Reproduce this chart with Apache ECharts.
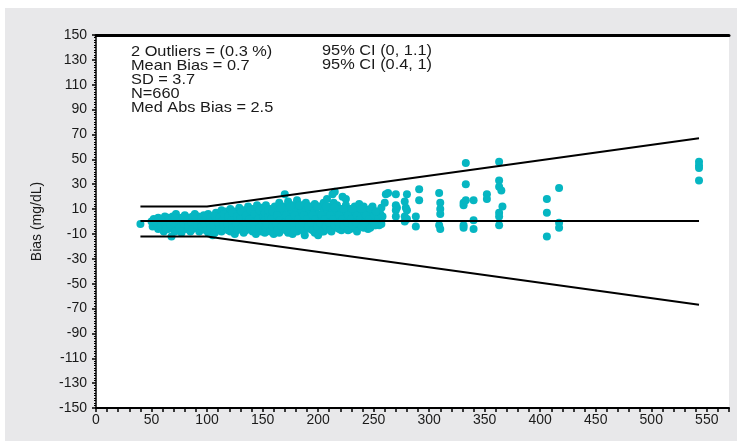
<!DOCTYPE html>
<html>
<head>
<meta charset="utf-8">
<script src="https://cdn.jsdelivr.net/npm/echarts@6/dist/echarts.min.js"></script>
<style>
html,body{margin:0;padding:0;background:#fff;}
#chart{width:737px;height:441px;}
</style>
</head>
<body>
<div id="chart"></div>
<script>
// Tick labels
const xTicks = [0, 50, 100, 150, 200, 250, 300, 350, 400, 450, 500, 550];
const yTicks = [-150, -130, -110, -90, -70, -50, -30, -10, 10, 30, 50, 70, 90, 110, 130, 150];

// Annotation texts
const statsLeft = ["2 Outliers = (0.3 %)", "Mean Bias = 0.7", "SD = 3.7", "N=660", "Med Abs Bias = 2.5"];
const statsRight = ["95% CI (0, 1.1)", "95% CI (0.4, 1)"];

// Limit lines (reference value vs bias)
const upperLimit = [[40, 12], [100, 12], [543, 67]];
const lowerLimit = [[40, -12], [100, -12], [543, -67]];
const meanLine = [[40, 0.5], [543, 0.5]];

// Dense cluster, reference 40-150 mg/dL
const clusterLow = [
  [40,-2],[50,0],[51,-4],[52,2],[55,-2],[56,-6],[56,3],
  [60,1],[60,-5],[61,-8],[62,4],[64,-2],[65,3],[65,-6],
  [68,-12],[68,0],[69,-5],[69,4],[72,6],[72,-2],[73,-7],[74,2],
  [76,-4],[77,3],[77,-9],[80,0],[80,5],[81,-6],[84,-3],[84,3],[85,-8],
  [88,1],[88,-5],[89,6],[92,-2],[92,4],[93,-8],[96,0],[96,-6],[97,5],
  [100,2],[100,-4],[101,-9],[101,6],[104,-2],[104,4],[105,-11],[105,-7],
  [108,1],[108,7],[109,-5],[112,-2],[112,5],[113,-8],[113,9],
  [116,2],[116,-5],[117,8],[120,-1],[120,6],[121,-8],[121,10],
  [124,3],[124,-4],[125,8],[125,-10],[128,0],[128,6],[129,-6],[129,11],
  [132,-3],[132,4],[133,9],[133,-9],[136,1],[136,7],[137,-6],[137,12],
  [140,-2],[140,4],[141,10],[141,-8],[144,2],[144,8],[145,-5],[145,13],[144,-10],
  [148,-2],[148,5],[149,11],[149,-8]
];
const clusterLowFill = [
  [54,-1],[58,1],[58,-4],[62,-2],[63,-6],[66,1],[67,-3],[70,-1],[71,3],[71,-8],
  [75,0],[75,-5],[79,-2],[79,3],[82,1],[83,-4],[86,-1],[87,4],[87,-6],[90,2],
  [91,-3],[94,1],[95,-4],[95,3],[98,-2],[99,3],[99,-7],[102,0],[103,-5],[103,3],
  [106,-3],[107,4],[107,-9],[110,-1],[111,3],[111,-6],[114,1],[115,-3],[115,6],
  [118,-2],[119,4],[119,-7],[122,1],[123,-5],[123,7],[126,-2],[127,4],[127,-7],
  [130,2],[131,-5],[131,8],[134,-1],[135,5],[135,-7],[138,2],[139,-4],[139,9],
  [142,-1],[143,6],[143,-6],[146,2],[147,-5],[147,9],[150,-1],[151,4],[151,-7],[151,10]
];

// Dense cluster, reference 150-260 mg/dL
const clusterHigh = [
  [152,1],[152,7],[153,13],[153,-5],[152,-9],[156,-3],[156,4],[157,10],[157,-8],
  [160,0],[160,6],[161,12],[161,-6],[160,-10],[164,-3],[164,3],[165,9],[165,15],[165,-9],
  [168,1],[168,7],[169,12],[169,-6],[170,22],[172,-2],[172,4],[173,10],[173,-9],[173,16],
  [176,1],[176,7],[177,13],[177,-6],[177,-10],[180,-2],[180,4],[181,10],[181,17],[181,-8],
  [184,1],[184,7],[185,13],[185,-5],[188,-2],[188,4],[189,10],[188,-11],[189,15],
  [192,1],[192,7],[193,12],[193,-6],[196,-3],[196,3],[197,9],[197,14],[197,-9],
  [200,0],[200,6],[201,12],[201,-6],[200,-11],[204,-3],[204,3],[205,9],[205,15],[205,-8],
  [208,1],[208,7],[209,12],[209,-5],[208,18],[212,-2],[212,4],[213,10],[212,-8],[213,22],[214,15],
  [216,1],[216,7],[217,13],[217,-5],[215,24],[220,-2],[220,4],[221,10],[221,-7],[222,20],
  [224,1],[224,7],[225,13],[225,18],[225,-5],[228,-2],[228,4],[229,10],[229,-6],
  [232,1],[232,7],[233,12],[233,-4],[236,-2],[236,4],[237,9],[235,-8],[237,14],
  [240,1],[240,7],[241,12],[241,-5],[244,-2],[244,4],[245,9],[245,-6],
  [248,1],[248,7],[249,12],[249,-3],[252,-3],[252,4],[253,8],[256,0],[256,6],[257,11],[257,-2]
];
const clusterHighFill = [
  [154,-2],[155,4],[155,9],[158,2],[159,-4],[159,8],[162,-2],[163,5],[163,-7],
  [166,1],[167,-4],[167,11],[170,-1],[171,5],[171,-7],[174,2],[175,-4],[175,12],
  [178,-1],[179,5],[179,-7],[182,2],[183,-4],[183,13],[186,-1],[187,5],[187,-8],
  [190,2],[191,-4],[191,12],[194,-1],[195,5],[195,-7],[198,2],[199,-4],[199,12],
  [202,-1],[203,5],[203,-8],[206,2],[207,-4],[207,12],[210,-1],[211,5],[211,-7],
  [214,2],[215,-3],[215,11],[218,-1],[219,5],[219,-6],[222,2],[223,-3],[223,10],
  [226,-1],[227,5],[227,-7],[230,2],[231,-3],[231,10],[234,-1],[235,5],
  [238,2],[239,-4],[239,10],[242,-1],[243,5],[246,2],[247,-5],[247,10],
  [250,-1],[251,5],[254,2],[255,-3]
];

// Sparse points, reference above 258 mg/dL
const sparsePoints = [
  [258,4],[260,15],[261,22],[263,23],[251,-3],[252,8],
  [270,22],[270,13],[270,9],[270,4],[271,11],
  [278,16],[279,11],[278,4],[278,0],[280,22],[280,9],[280,2],
  [288,4],[288,-4],[291,26],[291,17],
  [309,23],[310,15],[310,10],[310,6],[309,-3],[310,-6],
  [331,15],[331,13],[331,-3],[331,-5],[333,47],[333,30],[333,17],
  [340,17],[340,1],[340,-6],[352,22],[352,18],
  [363,48],[363,33],[363,28],[365,25],[366,12],[363,7],[363,4],[363,-3],
  [406,18],[406,7],[406,-12],[417,27],[417,-1],[417,-5],
  [543,48],[543,45],[543,43],[543,33]
];

const allPoints = clusterLow.concat(clusterLowFill, clusterHigh, clusterHighFill, sparsePoints);

const chart = echarts.init(document.getElementById('chart'), null, {renderer: 'canvas'});
const FONT = '"Liberation Sans", Arial, sans-serif';
const TXT = '#1a1a1a';

const graphics = [
  {type: 'rect', left: 5, top: 8, shape: {width: 732, height: 433}, style: {fill: '#e8e8ea'}, z: -10, silent: true}
];
statsLeft.forEach((t, i) => {
  graphics.push({type: 'text', x: 131, y: 44 + i * 14, z: 50, scaleX: 1.09,
    style: {text: t, font: '15px ' + FONT, fill: TXT}});
});
statsRight.forEach((t, i) => {
  graphics.push({type: 'text', x: 322, y: 43 + i * 14, z: 50, scaleX: 1.09,
    style: {text: t, font: '15px ' + FONT, fill: TXT}});
});

const lineStyle = {color: '#000', width: 2};

chart.setOption({
  animation: false,
  backgroundColor: '#fff',
  graphic: graphics,
  grid: {left: 96, right: 8, top: 35, bottom: 33, show: true, backgroundColor: '#fff', borderWidth: 0, containLabel: false},
  xAxis: [{
    type: 'value', min: 0, max: 570, interval: 50,
    axisLine: {show: true, onZero: false, lineStyle: {color: '#000', width: 2}},
    axisTick: {show: true, length: 4, lineStyle: {color: '#000', width: 1.5}},
    minorTick: {show: true, splitNumber: 5, length: 4, lineStyle: {color: '#000', width: 1.5}},
    splitLine: {show: false},
    axisLabel: {
      fontFamily: FONT, fontSize: 14, color: TXT, margin: 5, showMaxLabel: false,
      formatter: v => xTicks.indexOf(v) >= 0 ? String(v) : ''
    }
  }, {
    type: 'value', position: 'top', min: 0, max: 570,
    axisLine: {show: true, onZero: false, lineStyle: {color: '#000', width: 3}},
    axisTick: {show: false}, axisLabel: {show: false}, splitLine: {show: false}
  }],
  yAxis: {
    type: 'value', min: -150, max: 150, interval: 20,
    name: 'Bias (mg/dL)', nameLocation: 'middle', nameRotate: 90, nameGap: 52,
    nameTextStyle: {fontFamily: FONT, fontSize: 14, color: TXT},
    axisLine: {show: true, onZero: false, lineStyle: {color: '#000', width: 1.5}},
    axisTick: {show: true, length: 4, lineStyle: {color: '#000', width: 1.5}},
    minorTick: {show: true, splitNumber: 10, length: 2, lineStyle: {color: '#000', width: 1}},
    splitLine: {show: false},
    axisLabel: {
      fontFamily: FONT, fontSize: 14, color: TXT, margin: 9,
      formatter: v => yTicks.indexOf(v) >= 0 ? String(v) : ''
    }
  },
  series: [
    {
      type: 'scatter', data: allPoints, symbol: 'circle', symbolSize: 8,
      itemStyle: {color: '#06b6c2', opacity: 1}, z: 2, silent: true
    },
    {type: 'line', data: upperLimit, symbol: 'none', lineStyle: lineStyle, z: 5, silent: true},
    {type: 'line', data: lowerLimit, symbol: 'none', lineStyle: lineStyle, z: 5, silent: true},
    {type: 'line', data: meanLine, symbol: 'none', lineStyle: lineStyle, z: 5, silent: true}
  ]
});
</script>
</body>
</html>
